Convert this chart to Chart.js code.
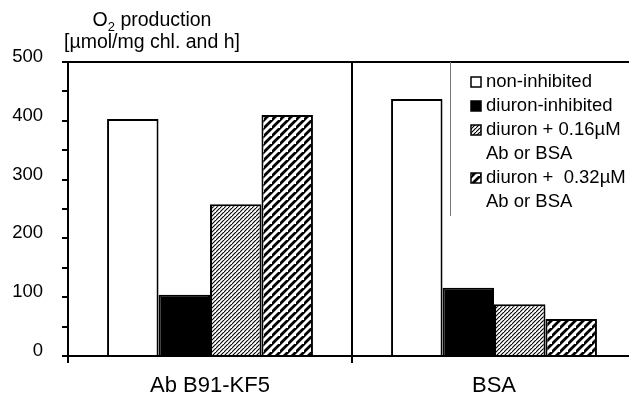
<!DOCTYPE html>
<html>
<head>
<meta charset="utf-8">
<script src="https://cdn.jsdelivr.net/npm/chart.js@4"></script>
<style>
  html, body { margin: 0; padding: 0; background: #fff; overflow: hidden; }
  #wrap { width: 640px; height: 395px; }
</style>
</head>
<body>
<div id="wrap"><canvas id="o2Chart" width="640" height="395"></canvas></div>
<script>
const categories = ["Ab B91-KF5", "BSA"];
const nonInhibited = [403, 437];
const diuronInhibited = [104, 116];
const diuron016 = [258, 88];
const diuron032 = [410, 63];
const yTickLabels = [0, 100, 200, 300, 400, 500];
const legendLabels = [
  ["non-inhibited"],
  ["diuron-inhibited"],
  ["diuron + 0.16\u00b5M", "Ab or BSA"],
  ["diuron +  0.32\u00b5M", "Ab or BSA"]
];

const FONT = "'Liberation Sans', Arial, sans-serif";

function hatch(size, width) {
  const c = document.createElement("canvas");
  c.width = size;
  c.height = size;
  const g = c.getContext("2d");
  g.fillStyle = "#fff";
  g.fillRect(0, 0, size, size);
  g.strokeStyle = "#000";
  g.lineWidth = width;
  g.beginPath();
  g.moveTo(-1, size + 1);
  g.lineTo(size + 1, -1);
  g.moveTo(-size - 1, size + 1);
  g.lineTo(1, -1);
  g.moveTo(size - 1, 2 * size + 1);
  g.lineTo(2 * size + 1, size - 1);
  g.stroke();
  return g.createPattern(c, "repeat");
}

const ctx = document.getElementById("o2Chart").getContext("2d");
const lightHatch = hatch(4, 1.1);
const heavyHatch = hatch(8, 2.8);
const fills = ["#ffffff", "#000000", lightHatch, heavyHatch];

const extras = {
  id: "extras",
  afterDraw(chart) {
    const c = chart.ctx;
    const a = chart.chartArea;
    c.save();
    // top frame line
    c.strokeStyle = "#000";
    c.lineWidth = 2;
    c.beginPath();
    c.moveTo(a.left - 6, a.top);
    c.lineTo(chart.width, a.top);
    c.stroke();

    // axis title
    c.fillStyle = "#000";
    c.textBaseline = "middle";
    const big = "19.5px " + FONT;
    const small = "13px " + FONT;
    const o = "O";
    const rest = " production";
    c.font = big;
    const wO = c.measureText(o).width;
    const wR = c.measureText(rest).width;
    c.font = small;
    const w2 = c.measureText("2").width;
    const x = 152 - (wO + w2 + wR) / 2;
    c.textAlign = "left";
    c.font = big;
    c.fillText(o, x, 21);
    c.font = small;
    c.fillText("2", x + wO, 27);
    c.font = big;
    c.fillText(rest, x + wO + w2, 21);
    c.textAlign = "center";
    c.fillText("[\u00b5mol/mg chl. and h]", 152, 43);

    // legend box edge
    c.strokeStyle = "#777";
    c.lineWidth = 1;
    c.beginPath();
    c.moveTo(450.5, a.top);
    c.lineTo(450.5, 216);
    c.stroke();

    // legend entries
    c.textAlign = "left";
    c.font = "18.5px " + FONT;
    let y = 82;
    legendLabels.forEach((lines, i) => {
      c.fillStyle = fills[i];
      c.fillRect(471, y - 5, 10, 10);
      c.strokeStyle = "#000";
      c.lineWidth = 1.5;
      c.strokeRect(471, y - 5, 10, 10);
      c.fillStyle = "#000";
      lines.forEach((t, j) => {
        c.fillText(t, 486, y + j * 24);
      });
      y += lines.length * 24;
    });
    c.restore();
  }
};

new Chart(ctx, {
  type: "bar",
  data: {
    labels: categories,
    datasets: [
      { label: "non-inhibited", data: nonInhibited, backgroundColor: fills[0] },
      { label: "diuron-inhibited", data: diuronInhibited, backgroundColor: fills[1] },
      { label: "diuron + 0.16\u00b5M Ab or BSA", data: diuron016, backgroundColor: fills[2] },
      { label: "diuron + 0.32\u00b5M Ab or BSA", data: diuron032, backgroundColor: fills[3] }
    ].map(d => Object.assign(d, {
      borderColor: "#000",
      borderWidth: 2,
      barPercentage: 1,
      categoryPercentage: 0.725
    }))
  },
  options: {
    responsive: false,
    animation: false,
    layout: { padding: { top: 62, right: 4, left: 0, bottom: 0 } },
    plugins: { legend: { display: false }, tooltip: { enabled: false } },
    scales: {
      x: {
        afterFit(s) { s.height = 39; },
        border: { display: true, color: "#000", width: 2 },
        grid: { display: true, drawOnChartArea: true, color: "#000", lineWidth: 2, tickLength: 7, offset: true },
        ticks: { color: "#000", font: { family: FONT, size: 22 }, padding: 10 }
      },
      y: {
        min: 0,
        max: 500,
        afterFit(s) { s.width = 68; },
        border: { display: true, color: "#000", width: 2 },
        grid: { drawOnChartArea: false, drawTicks: true, color: "#000", lineWidth: 2, tickLength: 6 },
        ticks: {
          stepSize: 50,
          color: "#000",
          padding: 19,
          labelOffset: -5,
          font: { family: FONT, size: 18.5 },
          callback: v => (yTickLabels.includes(v) ? String(v) : "")
        }
      }
    }
  },
  plugins: [extras]
});
</script>
</body>
</html>
